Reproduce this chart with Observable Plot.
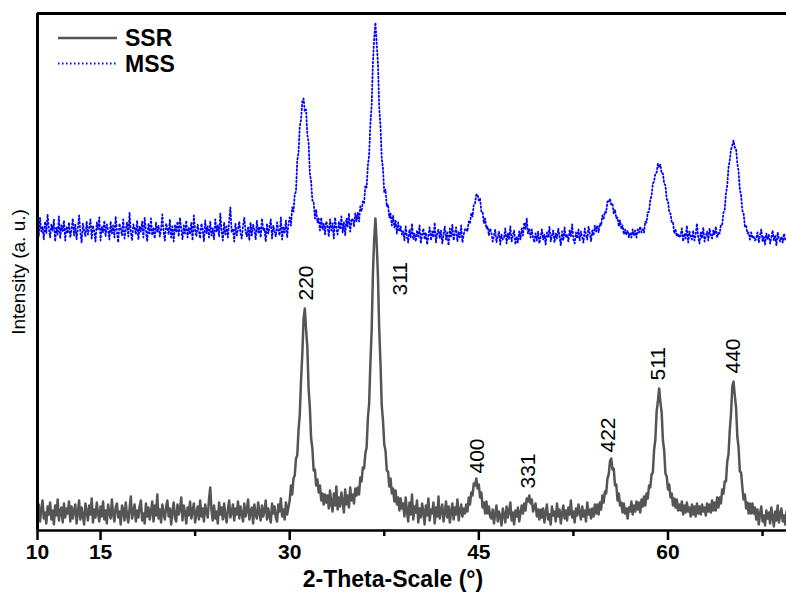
<!DOCTYPE html>
<html>
<head>
<meta charset="utf-8">
<script src="https://cdn.jsdelivr.net/npm/d3@7"></script>
<script src="https://cdn.jsdelivr.net/npm/@observablehq/plot@0.6"></script>
<style>
  body { margin: 0; background: #fff; }
  #chart { position: relative; width: 786px; height: 593px; font-family: "Liberation Sans", Arial, sans-serif; }
  #legend { position: absolute; left: 0; top: 0; pointer-events: none; }
</style>
</head>
<body>
<div id="chart"></div>
<script>
// XRD patterns, 2θ from 10° to 69.4° in 0.1° steps
const thetaStart = 10;
const thetaStep = 0.1;

// Solid-state reaction sample (counts, a.u.)
const ssr = [
  14,26,9,21,30,12,18,7,24,16,
  28,11,20,6,25,15,31,10,19,23,
  8,27,13,22,17,29,9,24,12,20,
  26,7,18,30,11,23,15,6,27,19,
  10,25,16,32,8,21,13,28,17,9,
  24,14,29,11,20,7,26,18,12,31,
  16,9,23,27,13,19,6,25,21,10,
  28,15,8,22,34,12,18,26,9,20,
  13,24,30,10,17,7,27,14,23,11,
  19,29,9,25,15,36,12,21,8,26,
  17,11,24,30,14,22,6,19,28,13,
  9,26,16,21,33,10,25,18,7,23,
  15,29,12,20,27,8,17,24,11,30,
  14,22,9,26,18,13,31,43,20,10,
  25,12,19,7,28,16,23,11,27,15,
  8,21,30,13,18,26,10,22,16,29,
  12,24,17,9,27,14,20,31,11,19,
  23,7,26,16,12,28,18,10,25,14,
  20,30,11,22,15,8,27,17,24,13,
  9,26,19,32,14,21,11,28,16,23,
  30,45,36,52,55,72,75,100,116,150,
  176,211,222,201,183,142,123,92,82,60,
  61,45,51,38,45,30,37,26,36,28,
  35,22,40,27,19,37,25,44,21,33,
  24,38,29,18,41,26,35,23,43,30,
  36,27,42,35,43,36,53,49,63,62,
  77,83,112,127,167,200,256,291,312,287,
  254,201,168,125,110,86,80,60,59,44,
  52,37,42,29,40,26,33,20,32,22,
  27,14,33,19,9,28,16,36,11,24,
  18,30,8,22,13,27,19,6,25,15,
  32,10,21,17,28,7,23,14,34,12,
  20,26,9,18,29,13,24,8,19,27,
  11,23,16,31,10,20,26,14,22,17,
  26,19,33,26,38,35,47,45,52,42,
  46,33,38,23,28,17,29,17,24,14,
  12,21,7,17,25,9,19,14,5,22,
  16,8,24,13,19,28,10,18,6,20,
  14,23,9,17,25,17,27,20,32,29,
  35,27,31,19,23,27,14,21,11,21,
  13,22,8,18,26,11,16,6,24,15,
  19,9,27,14,21,7,17,25,12,20,
  10,23,16,30,13,19,8,22,15,26,
  18,11,24,14,20,9,28,16,21,12,
  22,14,26,17,26,16,28,21,35,28,
  39,37,52,56,69,72,61,62,45,46,
  30,37,25,28,18,27,17,22,12,23,
  19,29,16,25,19,29,21,28,18,31,
  24,34,25,37,32,45,43,56,58,81,
  91,119,129,142,128,118,90,80,57,54,
  41,46,33,37,25,32,23,31,20,26,
  20,29,16,25,18,28,19,23,14,26,
  16,24,14,27,17,24,16,26,19,23,
  15,27,19,26,18,30,20,28,20,33,
  23,33,27,41,37,49,49,69,76,100,
  117,144,149,135,123,94,83,59,58,43,
  31,36,22,28,17,27,17,27,17,23,
  11,21,6,17,24,9,15,5,20,12,
  18,7,23,13,4,19,10,25,8,16,
  22,9,15,6,19
];

// Molten-salt synthesis sample (counts, a.u.), stacked above SSR
const mss = [
  27,14,33,19,24,11,29,17,36,22,
  13,26,20,31,9,23,16,34,12,25,
  19,30,10,24,17,28,13,21,32,15,
  26,11,22,35,18,8,27,20,14,29,
  16,23,31,12,25,19,9,28,21,33,
  10,24,18,30,14,26,20,11,29,17,
  25,13,34,19,8,27,22,15,31,12,
  21,28,14,38,18,10,26,23,16,30,
  11,24,19,29,13,33,20,9,27,17,
  32,15,23,12,28,18,25,14,21,36,
  19,10,27,22,16,31,13,24,9,26,
  18,29,14,33,21,11,25,17,30,13,
  23,16,28,10,35,20,14,26,19,12,
  27,21,9,30,17,24,13,29,15,22,
  11,31,19,25,14,37,20,10,28,16,
  24,13,30,43,18,22,9,27,15,21,
  29,17,12,25,33,19,14,23,10,28,
  15,26,21,11,30,18,24,13,32,20,
  22,9,27,17,23,31,12,25,19,14,
  28,20,15,33,11,24,18,30,13,26,
  33,25,43,39,56,59,90,98,124,131,
  149,152,139,141,116,108,77,69,50,49,
  32,41,28,32,20,33,21,27,16,29,
  25,14,31,20,27,12,33,22,16,29,
  21,34,18,28,15,32,24,37,19,30,
  32,24,37,29,38,29,44,39,49,47,
  65,63,85,95,127,145,188,212,228,207,
  187,143,125,92,82,58,61,44,46,33,
  37,25,35,23,30,17,28,19,24,16,
  19,10,24,14,8,21,13,27,11,17,
  9,20,14,25,7,16,22,11,18,6,
  15,23,10,19,13,28,8,17,21,12,
  20,7,16,24,11,18,5,22,14,26,
  10,17,23,9,19,13,25,8,16,21,
  22,19,29,27,37,34,46,47,56,56,
  50,52,39,39,27,32,22,24,15,22,
  18,9,15,21,8,14,19,6,16,11,
  13,22,7,17,11,24,9,15,20,6,
  14,8,19,11,22,15,28,21,32,17,
  22,13,21,13,8,17,10,19,7,14,
  21,11,16,6,18,13,24,9,15,20,
  8,17,12,22,14,5,19,10,23,13,
  16,9,20,14,26,11,7,18,12,21,
  10,19,13,8,22,15,11,24,17,9,
  20,15,25,19,25,18,27,25,35,32,
  39,38,49,48,52,46,47,37,41,32,
  33,24,30,22,25,16,21,16,20,13,
  18,13,21,15,20,13,21,18,24,18,
  21,18,29,28,38,39,51,55,67,69,
  77,78,87,83,86,77,77,67,65,51,
  50,38,37,28,28,17,21,14,17,13,
  15,22,9,17,12,25,8,19,14,11,
  20,10,16,27,13,7,18,12,23,9,
  14,19,10,22,15,12,20,16,24,13,
  18,17,26,26,38,41,57,65,83,90,
  101,105,110,103,102,87,79,61,55,40,
  37,24,25,17,18,11,18,13,14,10,
  12,18,8,15,21,9,14,6,17,11,
  16,7,13,20,10,15,5,18,12,9,
  14,8,17,11,13
];
const mssOffset = 280;

// Miller indices of the spinel reflections and where their labels sit
const hkl        = ["220", "311", "400", "331", "422", "511", "440"];
const hklTheta   = [31.35, 38.8, 44.9, 48.95, 55.3, 59.25, 65.2];
const hklLevel   = [230, 235, 57, 42, 78, 150, 157];

const majorTicks = [10, 15, 30, 45, 60];
const minorTicks = [22.5, 37.5, 52.5, 67.5];
const thetaDomain = [10, 69.4];
const intensityDomain = [0, 517];

const seriesNames = ["SSR", "MSS"];
const seriesColors = ["#555555", "#0000ff"];

const xLabel = "2-Theta-Scale (°)";
const yLabel = "Intensity (a. u.)";

const ssrRows = ssr.map((v, i) => ({theta: thetaStart + i * thetaStep, intensity: v}));
const mssRows = mss.map((v, i) => ({theta: thetaStart + i * thetaStep, intensity: v + mssOffset}));
const labelRows = hkl.map((h, i) => ({hkl: h, theta: hklTheta[i], intensity: hklLevel[i]}));

const font = '"Liberation Sans", Arial, sans-serif';

const chart = Plot.plot({
  width: 786,
  height: 593,
  marginTop: 13,
  marginBottom: 63,
  marginLeft: 37,
  marginRight: 0,
  style: {fontFamily: font, fontSize: "20px", color: "#000", background: "#fff"},
  x: {domain: thetaDomain},
  y: {domain: intensityDomain, axis: null},
  marks: [
    Plot.line(ssrRows, {x: "theta", y: "intensity", stroke: seriesColors[0], strokeWidth: 2.5}),
    Plot.line(mssRows, {x: "theta", y: "intensity", stroke: seriesColors[1], strokeWidth: 1.8, strokeDasharray: "1.4 2.4"}),
    Plot.text(labelRows, {x: "theta", y: "intensity", text: "hkl", rotate: -90, textAnchor: "start", fontSize: 21, fill: "#000"}),
    Plot.ruleX([thetaDomain[0]], {stroke: "#000", strokeWidth: 3}),
    Plot.ruleY([intensityDomain[1]], {stroke: "#000", strokeWidth: 3}),
    Plot.ruleY([intensityDomain[0]], {stroke: "#000", strokeWidth: 2.5}),
    Plot.axisX({ticks: majorTicks, tickSize: 10, tickPadding: 4, strokeWidth: 2.5, fontSize: 21, fontWeight: "bold", label: null, tickFormat: d => String(d)}),
    Plot.axisX({ticks: minorTicks, tickSize: 6, strokeWidth: 2.5, label: null, tickFormat: () => ""}),
    Plot.text([xLabel], {frameAnchor: "bottom", lineAnchor: "middle", dx: -19, dy: 49, fontSize: 23, fontWeight: "bold"}),
    Plot.text([yLabel], {frameAnchor: "left", textAnchor: "middle", lineAnchor: "middle", rotate: -90, dx: -19, fontSize: 19})
  ]
});

const host = document.getElementById("chart");
host.appendChild(chart);

// Legend drawn over the top-left corner of the frame
const legend = d3.select(host).append("svg")
  .attr("id", "legend")
  .attr("width", 786)
  .attr("height", 593);
const legendRows = seriesNames.map((name, i) => ({name, color: seriesColors[i], dotted: i === 1}));
const item = legend.selectAll("g").data(legendRows).join("g")
  .attr("transform", (d, i) => `translate(58,${38 + i * 25.5})`);
item.append("line")
  .attr("x1", 0).attr("x2", 59).attr("y1", 0).attr("y2", 0)
  .attr("stroke", d => d.color)
  .attr("stroke-width", d => d.dotted ? 1.8 : 2.5)
  .attr("stroke-dasharray", d => d.dotted ? "1.5 2.5" : null);
item.append("text")
  .attr("x", 67).attr("y", 0).attr("dy", "0.36em")
  .attr("font-family", font).attr("font-size", 23).attr("font-weight", "bold")
  .text(d => d.name);
</script>
</body>
</html>
